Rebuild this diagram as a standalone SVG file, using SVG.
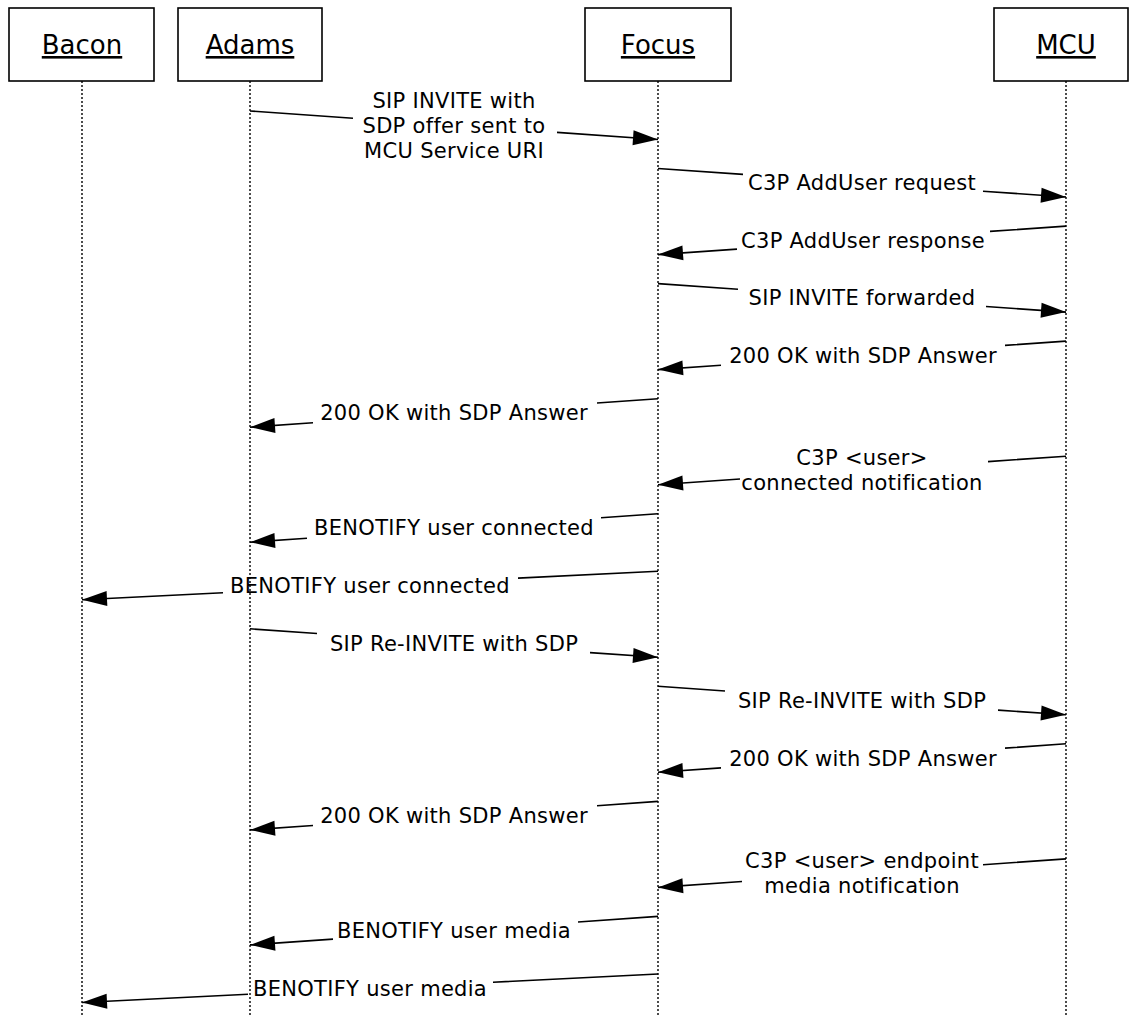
<svg xmlns="http://www.w3.org/2000/svg" width="1130" height="1015" viewBox="0 0 1130 1015">
<style>
.box{fill:#fff;stroke:#000;stroke-width:1.6}
.name{font-family:"DejaVu Sans","Liberation Sans",sans-serif;font-size:26px;text-anchor:middle;text-decoration:underline;fill:#000}
.life{stroke:#000;stroke-width:1.4;stroke-dasharray:2 2;fill:none}
.msg{stroke:#000;stroke-width:1.6;fill:none;marker-end:url(#arr)}
.lbl{font-family:"DejaVu Sans","Liberation Sans",sans-serif;font-size:21px;letter-spacing:0.3px;text-anchor:middle;fill:#000}
</style>
<defs>
<marker id="arr" markerUnits="userSpaceOnUse" markerWidth="26" markerHeight="16" refX="25" refY="7.5" orient="auto" overflow="visible">
<path d="M0,0 L25,7.5 L0,15 Z" fill="#000"/>
</marker>
</defs>
<rect width="1130" height="1015" fill="#fff"/>
<g id="lifelines">
<line class="life" x1="82" y1="81" x2="82" y2="1015"/>
<line class="life" x1="250" y1="81" x2="250" y2="1015"/>
<line class="life" x1="658" y1="81" x2="658" y2="1015"/>
<line class="life" x1="1066" y1="81" x2="1066" y2="1015"/>
</g>
<g id="node-bacon"><rect class="box" x="9" y="8" width="145" height="73"/><text class="name" x="82" y="54">Bacon</text></g>
<g id="node-adams"><rect class="box" x="178" y="8" width="144" height="73"/><text class="name" x="250" y="54">Adams</text></g>
<g id="node-focus"><rect class="box" x="585" y="8" width="146" height="73"/><text class="name" x="658" y="54">Focus</text></g>
<g id="node-mcu"><rect class="box" x="994" y="8" width="134" height="73"/><text class="name" x="1066" y="54">MCU</text></g>
<g id="connectors">
<path class="msg" d="M250,111 L353,118.2 M557,132.4 L658,139.5"/>
<text class="lbl" x="454" y="107.75">SIP INVITE with</text>
<text class="lbl" x="454" y="132.75">SDP offer sent to</text>
<text class="lbl" x="454" y="157.75">MCU Service URI</text>

<path class="msg" d="M658,168.5 L743,174.4 M983,191.2 L1066,197"/>
<text class="lbl" x="862" y="190.25">C3P AddUser request</text>

<path class="msg" d="M1066,226.1 L990,231.4 M737,249.1 L658,254.6"/>
<text class="lbl" x="863" y="247.85">C3P AddUser response</text>

<path class="msg" d="M658,283.6 L738,289.2 M986,306.5 L1066,312.1"/>
<text class="lbl" x="862" y="305.35">SIP INVITE forwarded</text>

<path class="msg" d="M1066,341.1 L1005,345.4 M721,365.2 L658,369.6"/>
<text class="lbl" x="863" y="362.85">200 OK with SDP Answer</text>

<path class="msg" d="M658,398.7 L597,403 M313,422.8 L250,427.2"/>
<text class="lbl" x="454" y="420.45">200 OK with SDP Answer</text>

<path class="msg" d="M1066,456.2 L988,461.6 M740,479 L658,484.7"/>
<text class="lbl" x="862" y="465.45">C3P &lt;user&gt;</text>
<text class="lbl" x="862" y="490.45">connected notification</text>

<path class="msg" d="M658,513.7 L601,517.7 M307,538.2 L250,542.2"/>
<text class="lbl" x="454" y="535.45">BENOTIFY user connected</text>

<path class="msg" d="M658,571.2 L518,578.1 M223,592.7 L82,599.7"/>
<text class="lbl" x="370" y="592.95">BENOTIFY user connected</text>

<path class="msg" d="M250,628.8 L317,633.5 M590,652.6 L658,657.3"/>
<text class="lbl" x="454" y="650.55">SIP Re-INVITE with SDP</text>

<path class="msg" d="M658,686.3 L725,691 M998,710.1 L1066,714.8"/>
<text class="lbl" x="862" y="708.05">SIP Re-INVITE with SDP</text>

<path class="msg" d="M1066,743.8 L1005,748.1 M721,767.9 L658,772.3"/>
<text class="lbl" x="863" y="765.55">200 OK with SDP Answer</text>

<path class="msg" d="M658,801.4 L597,805.7 M313,825.5 L250,829.9"/>
<text class="lbl" x="454" y="823.15">200 OK with SDP Answer</text>

<path class="msg" d="M1066,858.9 L983,864.7 M742,881.5 L658,887.4"/>
<text class="lbl" x="862" y="868.15">C3P &lt;user&gt; endpoint</text>
<text class="lbl" x="862" y="893.15">media notification</text>

<path class="msg" d="M658,916.4 L578,922 M333,939.1 L250,944.9"/>
<text class="lbl" x="454" y="938.15">BENOTIFY user media</text>

<path class="msg" d="M658,974 L493,982.2 M248,994.3 L82,1002.5"/>
<text class="lbl" x="370" y="995.75">BENOTIFY user media</text>
</g>
</svg>
